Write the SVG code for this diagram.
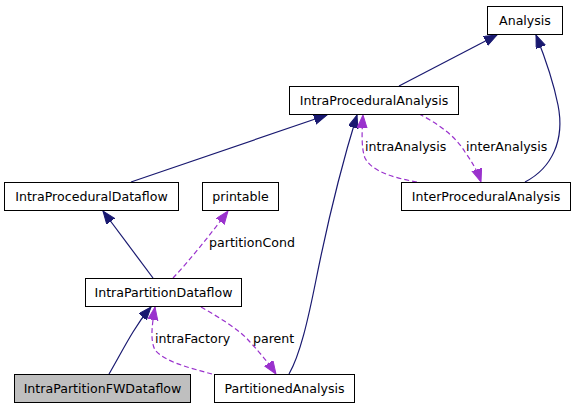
<svg xmlns="http://www.w3.org/2000/svg" width="575" height="408" viewBox="0 0 575 408">
<defs>
<style>
.node rect{fill:#fff;stroke:#000;stroke-width:1}
.node text{font-family:"DejaVu Sans",sans-serif;font-size:12.6px;text-anchor:middle;fill:#000}
.inh{fill:none;stroke:#191970;stroke-width:1.2}
.use{fill:none;stroke:#9a32cd;stroke-width:1.2;stroke-dasharray:5,3}
.lbl{font-family:"DejaVu Sans",sans-serif;font-size:12.6px;fill:#000}
</style>
<marker id="ah" markerUnits="userSpaceOnUse" markerWidth="14" markerHeight="12" refX="13" refY="5" orient="auto">
<path d="M0,0 L13,5 L0,10 z" fill="#191970" stroke="#191970"/>
</marker>
<marker id="ap" markerUnits="userSpaceOnUse" markerWidth="14" markerHeight="12" refX="13" refY="5" orient="auto">
<path d="M0,0 L13,5 L0,10 z" fill="#9a32cd" stroke="#9a32cd"/>
</marker>
</defs>
<rect width="575" height="408" fill="#fff"/>
<g id="edges">
<path class="inh" d="M399,86 L497,35" marker-end="url(#ah)"/>
<path class="inh" d="M525,182 C552,168 565,140 558,105 C553,80 546,60 536,35" marker-end="url(#ah)"/>
<path class="inh" d="M131,182 L327,115" marker-end="url(#ah)"/>
<path class="inh" d="M289,374 C300,355 308,320 316,280 C325,235 340,170 357,115" marker-end="url(#ah)"/>
<path class="use" d="M417,182 C395,178 372,172 365,158 C361,148 362,130 363,115" marker-end="url(#ap)"/>
<path class="use" d="M419,114 C435,122 455,135 465,152 C472,162 477,170 481,182" marker-end="url(#ap)"/>
<path class="inh" d="M153,278 L103,211" marker-end="url(#ah)"/>
<path class="use" d="M173,278 C190,260 210,235 228,211" marker-end="url(#ap)"/>
<path class="inh" d="M109,374 C116,362 125,345 133,332 C139,322 145,314 151,307" marker-end="url(#ah)"/>
<path class="use" d="M212,374 C190,368 165,362 155,350 C150,340 152,325 155,307" marker-end="url(#ap)"/>
<path class="use" d="M201,307 C220,318 240,330 250,342 C262,355 270,365 276,374" marker-end="url(#ap)"/>
<text class="lbl" x="365" y="151">intraAnalysis</text>
<text class="lbl" x="466" y="151">interAnalysis</text>
<text class="lbl" x="209" y="247">partitionCond</text>
<text class="lbl" x="155" y="343">intraFactory</text>
<text class="lbl" x="253" y="343">parent</text>
</g>
<g id="Analysis" class="node"><rect x="487.5" y="6.5" width="75" height="28"/><text x="525" y="25">Analysis</text></g>
<g id="IntraProceduralAnalysis" class="node"><rect x="289.5" y="86.5" width="169" height="28"/><text x="374" y="105">IntraProceduralAnalysis</text></g>
<g id="InterProceduralAnalysis" class="node"><rect x="401.5" y="182.5" width="169" height="28"/><text x="486" y="201">InterProceduralAnalysis</text></g>
<g id="IntraProceduralDataflow" class="node"><rect x="4.5" y="182.5" width="174" height="28"/><text x="91.5" y="201">IntraProceduralDataflow</text></g>
<g id="printable" class="node"><rect x="202.5" y="182.5" width="76" height="28"/><text x="240.5" y="201">printable</text></g>
<g id="IntraPartitionDataflow" class="node"><rect x="85.5" y="278.5" width="156" height="28"/><text x="163.5" y="297">IntraPartitionDataflow</text></g>
<g id="IntraPartitionFWDataflow" class="node"><rect x="14.5" y="374.5" width="176" height="28" style="fill:#bfbfbf"/><text x="102.5" y="393">IntraPartitionFWDataflow</text></g>
<g id="PartitionedAnalysis" class="node"><rect x="214.5" y="374.5" width="140" height="28"/><text x="284.5" y="393">PartitionedAnalysis</text></g>
</svg>
